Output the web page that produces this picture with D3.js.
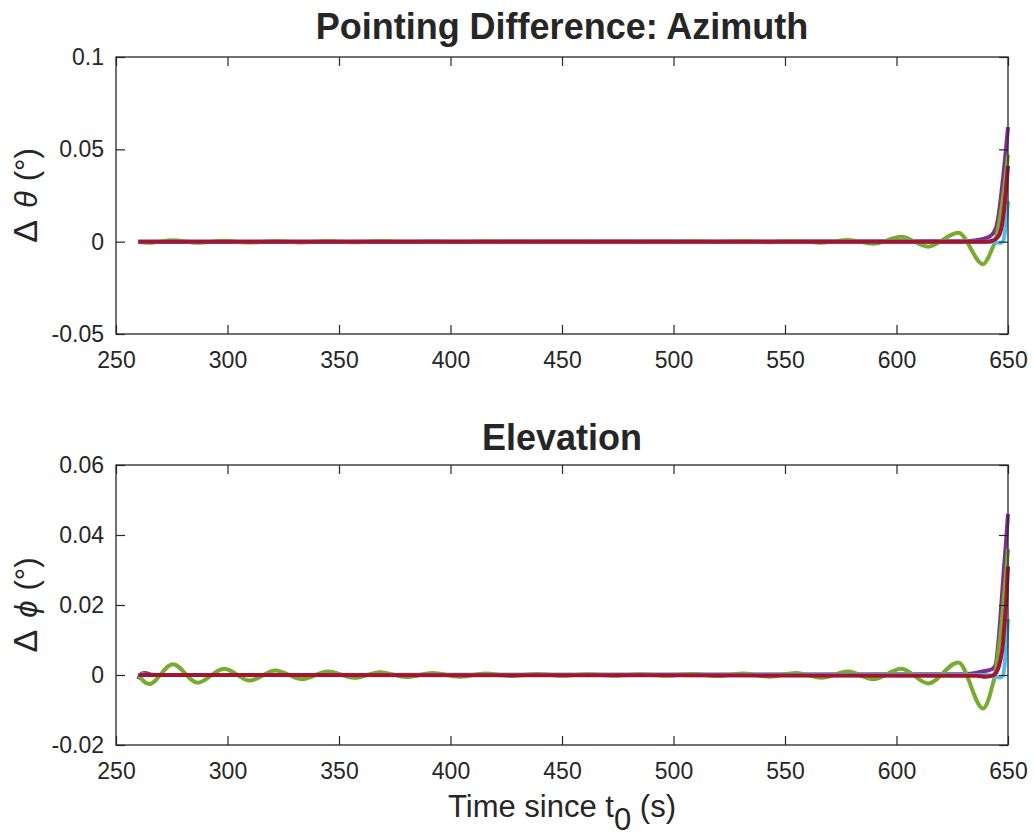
<!DOCTYPE html>
<html>
<head>
<meta charset="utf-8">
<script src="https://cdn.jsdelivr.net/npm/d3@7"></script>
<style>
  body { margin: 0; background: #fff; }
  text { font-family: "Liberation Sans", Arial, Helvetica, sans-serif; fill: #262626; }
</style>
</head>
<body>
<svg id="chart" width="1034" height="838"></svg>
<script>
// ---- time axis (s) ----
const timeTicks = [250, 300, 350, 400, 450, 500, 550, 600, 650];
const timeDomain = [250, 650];

// ---- azimuth panel ----
const azTicks = [-0.05, 0, 0.05, 0.1];
const azTickLabels = ["-0.05", "0", "0.05", "0.1"];
const azDomain = [-0.05, 0.1];

// [time, delta azimuth in degrees]
const azPurple = [[260,0],[630,0.0002],[634,0.0005],[637,0.001],[640,0.0019],[642,0.003],[643.5,0.0048],[645,0.009],[646,0.016],[647,0.026],[648,0.037],[649,0.049],[650,0.062]];
const azGreen = [[260,0],[264.8,-0.0006],[275.5,0.0007],[286.5,-0.0006],[298.5,0.0005],[310,-0.0005],[321.5,0.0004],[333.3,-0.0004],[345,0.0003],[356.8,-0.0003],[368.5,0.0003],[380.2,-0.0002],[392,0.0002],[403.8,-0.0002],[415.5,0.0002],[427.2,-0.0001],[438.8,0.0001],[450.4,-0.0001],[462,0.0001],[473.6,-0.0001],[485.2,0.0001],[496.8,-0.0001],[508.4,0.0002],[520,-0.0002],[531.6,0.0003],[543.2,-0.0003],[555.1,0.0004],[566.4,-0.0006],[578.3,0.0009],[589.5,-0.0011],[602.2,0.0026],[614.2,-0.0027],[627.7,0.0048],[638.9,-0.0122],[641,-0.009],[643,-0.0035],[644.2,0],[645.5,0.007],[646.7,0.015],[648,0.026],[649,0.036],[650,0.047]];
const azCyan = [[260,0],[641,0],[644,-0.0004],[646.5,-0.0007],[647.8,0.0002],[648.8,0.007],[650,0.022]];
const azRed = [[260,0],[640,0],[643,0.0005],[645,0.002],[646.4,0.0045],[647.3,0.009],[648.2,0.017],[649.1,0.028],[650,0.041]];

// ---- elevation panel ----
const elTicks = [-0.02, 0, 0.02, 0.04, 0.06];
const elTickLabels = ["-0.02", "0", "0.02", "0.04", "0.06"];
const elDomain = [-0.02, 0.06];

// [time, delta elevation in degrees]
const elPurple = [[260,-0.0012],[261.5,0.0004],[263,0.0006],[266,0.0001],[270,0],[630,0.0002],[634,0.0004],[637,0.0008],[640,0.0012],[643,0.0017],[644.5,0.003],[645.7,0.0095],[647,0.02],[648,0.029],[649,0.037],[650,0.046]];
const elGreen = [[260,0],[264.8,-0.0026],[275.5,0.0031],[286.5,-0.0022],[298.5,0.0018],[310,-0.0016],[321.5,0.0013],[333.3,-0.0012],[345,0.001],[356.8,-0.0008],[368.5,0.0008],[380.2,-0.0006],[392,0.0006],[403.8,-0.0005],[415.5,0.0004],[427.2,-0.0003],[438.8,0.0003],[450.4,-0.0002],[462,0.0002],[473.6,-0.0002],[485.2,0.0002],[496.8,-0.0002],[508.4,0.0003],[520,-0.0003],[531.6,0.0004],[543.2,-0.0005],[555.1,0.0006],[566.4,-0.0008],[578.3,0.001],[589.5,-0.0012],[602.2,0.0018],[614.2,-0.0024],[627.7,0.0036],[638.9,-0.0096],[641,-0.0075],[643,-0.003],[644.2,0],[645.5,0.006],[646.7,0.012],[648,0.021],[649,0.028],[650,0.036]];
const elCyan = [[260,-0.0006],[262,0.0002],[265,0],[641,0],[644,-0.0005],[646.5,-0.0007],[647.8,-0.0001],[648.8,0.005],[650,0.016]];
const elRed = [[260,0],[636,-0.0002],[640,-0.0005],[643,-0.0002],[645,0.001],[646.5,0.004],[647.6,0.008],[648.5,0.015],[649.3,0.022],[650,0.031]];

const colors = { purple: "#7E2F8E", green: "#77AC30", cyan: "#4DBEEE", red: "#A2142F" };
const axisColor = "#262626";

const svg = d3.select("#chart");
const left = 116, right = 1008;

const x = d3.scaleLinear().domain(timeDomain).range([left, right]);

function panel(top, bottom, domain, ticks, tickLabels, series, title, symbol) {
  const y = d3.scaleLinear().domain(domain).range([bottom, top]);
  const g = svg.append("g");

  const line = d3.line()
    .x(d => x(d[0])).y(d => y(d[1]))
    .curve(d3.curveMonotoneX);

  const lines = g.append("g");
  series.forEach(s => {
    lines.append("path")
      .datum(s.data)
      .attr("d", line)
      .attr("fill", "none")
      .attr("stroke", s.color)
      .attr("stroke-width", 4)
      .attr("stroke-linejoin", "round");
  });

  const labelMap = new Map(ticks.map((t, i) => [t, tickLabels[i]]));

  const styleAxis = sel => {
    sel.select(".domain").remove();
    sel.selectAll(".tick line").attr("stroke", axisColor).attr("stroke-width", 1.2);
    sel.selectAll(".tick text").style("font-size", "23px").attr("fill", axisColor);
  };

  g.append("g").attr("transform", `translate(0,${bottom})`)
    .call(d3.axisBottom(x).tickValues(timeTicks).tickSizeInner(-9).tickSizeOuter(0).tickPadding(18).tickFormat(d3.format("d")))
    .call(styleAxis);
  g.append("g").attr("transform", `translate(0,${top})`)
    .call(d3.axisTop(x).tickValues(timeTicks).tickSizeInner(-9).tickSizeOuter(0).tickFormat(""))
    .call(styleAxis);
  g.append("g").attr("transform", `translate(${left},0)`)
    .call(d3.axisLeft(y).tickValues(ticks).tickSizeInner(-9).tickSizeOuter(0).tickPadding(12).tickFormat(d => labelMap.get(d)))
    .call(styleAxis);
  g.append("g").attr("transform", `translate(${right},0)`)
    .call(d3.axisRight(y).tickValues(ticks).tickSizeInner(-9).tickSizeOuter(0).tickFormat(""))
    .call(styleAxis);

  g.append("rect")
    .attr("x", left).attr("y", top)
    .attr("width", right - left).attr("height", bottom - top)
    .attr("fill", "none").attr("stroke", axisColor).attr("stroke-width", 1.3);

  g.append("text")
    .attr("x", (left + right) / 2).attr("y", title.y)
    .attr("text-anchor", "middle")
    .style("font-size", "36px").style("font-weight", "bold")
    .text(title.text);

  const yl = g.append("text")
    .attr("transform", `translate(37,${(top + bottom) / 2}) rotate(-90)`)
    .attr("text-anchor", "middle")
    .style("font-size", "31px");
  yl.append("tspan").style("font-size", "34px").text("\u0394");
  yl.append("tspan").attr("dx", 12).style("font-style", "italic").text(symbol);
  yl.append("tspan").attr("dx", 10).text("(\u00B0)");
}

panel(57, 334, azDomain, azTicks, azTickLabels, [
  { data: azPurple, color: colors.purple },
  { data: azGreen, color: colors.green },
  { data: azCyan, color: colors.cyan },
  { data: azRed, color: colors.red }
], { text: "Pointing Difference: Azimuth", y: 39 }, "\u03B8");

panel(465, 745, elDomain, elTicks, elTickLabels, [
  { data: elPurple, color: colors.purple },
  { data: elGreen, color: colors.green },
  { data: elCyan, color: colors.cyan },
  { data: elRed, color: colors.red }
], { text: "Elevation", y: 450 }, "\u03D5");

// x-axis label with subscript
const xl = svg.append("text")
  .attr("x", (left + right) / 2).attr("y", 817)
  .attr("text-anchor", "middle")
  .style("font-size", "31px");
xl.append("tspan").text("Time since t");
xl.append("tspan").attr("dy", 13).text("0");
xl.append("tspan").attr("dy", -13).text(" (s)");
</script>
</body>
</html>
